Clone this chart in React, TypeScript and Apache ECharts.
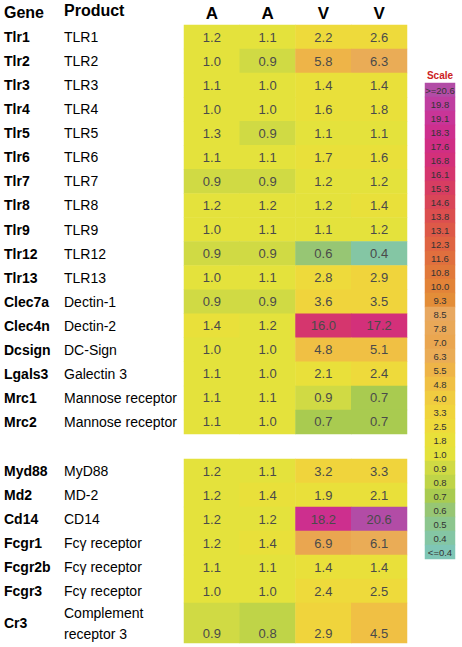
import React, { useEffect, useRef } from "react";
import * as echarts from "echarts";

const columns = ["A", "A", "V", "V"];

const genes1 = ["Tlr1", "Tlr2", "Tlr3", "Tlr4", "Tlr5", "Tlr6", "Tlr7", "Tlr8", "Tlr9", "Tlr12", "Tlr13", "Clec7a", "Clec4n", "Dcsign", "Lgals3", "Mrc1", "Mrc2"];
const products1 = ["TLR1", "TLR2", "TLR3", "TLR4", "TLR5", "TLR6", "TLR7", "TLR8", "TLR9", "TLR12", "TLR13", "Dectin-1", "Dectin-2", "DC-Sign", "Galectin 3", "Mannose receptor", "Mannose receptor"];
const values1 = [
  [1.2, 1.1, 2.2, 2.6],
  [1.0, 0.9, 5.8, 6.3],
  [1.1, 1.0, 1.4, 1.4],
  [1.0, 1.0, 1.6, 1.8],
  [1.3, 0.9, 1.1, 1.1],
  [1.1, 1.1, 1.7, 1.6],
  [0.9, 0.9, 1.2, 1.2],
  [1.2, 1.2, 1.2, 1.4],
  [1.0, 1.1, 1.1, 1.2],
  [0.9, 0.9, 0.6, 0.4],
  [1.0, 1.1, 2.8, 2.9],
  [0.9, 0.9, 3.6, 3.5],
  [1.4, 1.2, 16.0, 17.2],
  [1.0, 1.0, 4.8, 5.1],
  [1.1, 1.0, 2.1, 2.4],
  [1.1, 1.1, 0.9, 0.7],
  [1.1, 1.0, 0.7, 0.7],
];

const genes2 = ["Myd88", "Md2", "Cd14", "Fcgr1", "Fcgr2b", "Fcgr3"];
const products2 = ["MyD88", "MD-2", "CD14", "Fcγ receptor", "Fcγ receptor", "Fcγ receptor"];
const values2 = [
  [1.2, 1.1, 3.2, 3.3],
  [1.2, 1.4, 1.9, 2.1],
  [1.2, 1.2, 18.2, 20.6],
  [1.2, 1.4, 6.9, 6.1],
  [1.1, 1.1, 1.4, 1.4],
  [1.0, 1.0, 2.4, 2.5],
];

const genes3 = ["Cr3"];
const products3 = ["Complement\nreceptor 3"];
const values3 = [[0.9, 0.8, 2.9, 4.5]];

const scaleLabels = [">=20.6", "19.8", "19.1", "18.3", "17.6", "16.8", "16.1", "15.3", "14.6", "13.8", "13.1", "12.3", "11.6", "10.8", "10.0", "9.3", "8.5", "7.8", "7.0", "6.3", "5.5", "4.8", "4.0", "3.3", "2.5", "1.8", "1.0", "0.9", "0.8", "0.7", "0.6", "0.5", "0.4", "<=0.4"];
const scaleValues = [20.6, 19.8, 19.1, 18.3, 17.6, 16.8, 16.1, 15.3, 14.6, 13.8, 13.1, 12.3, 11.6, 10.8, 10.0, 9.3, 8.5, 7.8, 7.0, 6.3, 5.5, 4.8, 4.0, 3.3, 2.5, 1.8, 1.0, 0.9, 0.8, 0.7, 0.6, 0.5, 0.4, 0.3];
const scaleColors = [
  "#b24ca6", "#bf3ea0", "#c83598", "#cd2f8e", "#d02e84", "#d3307a", "#d5366e", "#d73d62",
  "#d94658", "#db4f4f", "#dd5948", "#df6442", "#e06f3e", "#e1793b", "#e28338", "#e38d38",
  "#e8a860", "#e9a858", "#eaa650", "#eaac56", "#eeb448", "#f0c044", "#f0cc40", "#f0d43c",
  "#eeda3b", "#e9e03a", "#e4e23c", "#d0da44", "#bfd448", "#a9cb50", "#97c674", "#8cc68e",
  "#84c6a4", "#7fc6b6",
];

const FONT = "'Liberation Sans', Arial, sans-serif";

function toCells(rows: number[][]) {
  const out: number[][] = [];
  rows.forEach((r, yi) => r.forEach((v, xi) => out.push([xi, yi, v])));
  return out;
}

function buildPieces() {
  return scaleValues.map((v, i) => {
    const p: any = { color: scaleColors[i] };
    if (i > 0) p.lt = (scaleValues[i - 1] + v) / 2;
    if (i < scaleValues.length - 1) p.gte = (scaleValues[i + 1] + v) / 2;
    return p;
  });
}

export default function App() {
  const ref = useRef<HTMLDivElement>(null);
  useEffect(() => {
    if (!ref.current) return;
    const chart = echarts.init(ref.current, null, { renderer: "svg" });
    const grids = [
      { left: 184, top: 25, width: 223, height: 409 },
      { left: 184, top: 459, width: 223, height: 144 },
      { left: 184, top: 603, width: 223, height: 40 },
      { left: 425, top: 83, width: 30, height: 476 },
    ];
    const hiddenX = (gi: number, data: string[], show = false) => ({
      type: "category",
      gridIndex: gi,
      data,
      position: "top",
      axisLine: { show: false },
      axisTick: { show: false },
      axisLabel: show
        ? { show: true, fontSize: 17, fontWeight: "bold", color: "#000", fontFamily: FONT, margin: 3 }
        : { show: false },
      splitLine: { show: false },
    });
    const geneAxis = (gi: number, data: string[]) => ({
      type: "category",
      gridIndex: gi,
      data,
      inverse: true,
      position: "left",
      axisLine: { show: false },
      axisTick: { show: false },
      axisLabel: { align: "left", margin: 180, fontSize: 14, fontWeight: "bold", color: "#000", fontFamily: FONT },
    });
    const productAxis = (gi: number, data: string[]) => ({
      type: "category",
      gridIndex: gi,
      data,
      inverse: true,
      position: "left",
      axisLine: { show: false },
      axisTick: { show: false },
      axisLabel: { align: "left", margin: 120, fontSize: 14, lineHeight: 21, color: "#000", fontFamily: FONT },
    });
    const cellLabel = (offsetY = 0) => ({
      show: true,
      color: "#4a4a4a",
      fontSize: 13,
      fontFamily: FONT,
      offset: [0, offsetY],
      formatter: (p: any) => Number(p.value[2]).toFixed(1),
    });
    const option: any = {
      animation: false,
      backgroundColor: "#fff",
      grid: grids,
      xAxis: [
        hiddenX(0, columns, true),
        hiddenX(1, columns),
        hiddenX(2, columns),
        hiddenX(3, ["scale"]),
      ],
      yAxis: [
        geneAxis(0, genes1),
        productAxis(0, products1),
        geneAxis(1, genes2),
        productAxis(1, products2),
        geneAxis(2, genes3),
        productAxis(2, products3),
        {
          type: "category",
          gridIndex: 3,
          data: scaleLabels,
          inverse: true,
          axisLine: { show: false },
          axisTick: { show: false },
          axisLabel: { show: false },
        },
      ],
      visualMap: {
        type: "piecewise",
        show: false,
        dimension: 2,
        seriesIndex: [0, 1, 2, 3],
        pieces: buildPieces(),
      },
      graphic: [
        { type: "text", left: 4, top: 4, style: { text: "Gene", font: `bold 16px ${FONT}`, fill: "#000" } },
        { type: "text", left: 64, top: 2, style: { text: "Product", font: `bold 16px ${FONT}`, fill: "#000" } },
        { type: "text", x: 440, y: 75, style: { text: "Scale", font: `bold 10px ${FONT}`, fill: "#cc2222", textAlign: "center", textVerticalAlign: "middle" } },
      ],
      series: [
        { type: "heatmap", xAxisIndex: 0, yAxisIndex: 0, data: toCells(values1), label: cellLabel(), itemStyle: { borderWidth: 0 }, emphasis: { disabled: true } },
        { type: "heatmap", xAxisIndex: 1, yAxisIndex: 2, data: toCells(values2), label: cellLabel(), itemStyle: { borderWidth: 0 }, emphasis: { disabled: true } },
        { type: "heatmap", xAxisIndex: 2, yAxisIndex: 4, data: toCells(values3), label: cellLabel(10), itemStyle: { borderWidth: 0 }, emphasis: { disabled: true } },
        {
          type: "heatmap",
          xAxisIndex: 3,
          yAxisIndex: 6,
          data: scaleValues.map((v, i) => [0, i, v]),
          label: {
            show: true,
            color: "#333",
            fontSize: 9.5,
            fontFamily: FONT,
            formatter: (p: any) => scaleLabels[p.value[1]],
          },
          itemStyle: { borderWidth: 0 },
          emphasis: { disabled: true },
        },
      ],
    };
    chart.setOption(option);
    return () => chart.dispose();
  }, []);
  return <div ref={ref} style={{ position: "absolute", left: 0, top: 0, width: 462, height: 647 }} />;
}
